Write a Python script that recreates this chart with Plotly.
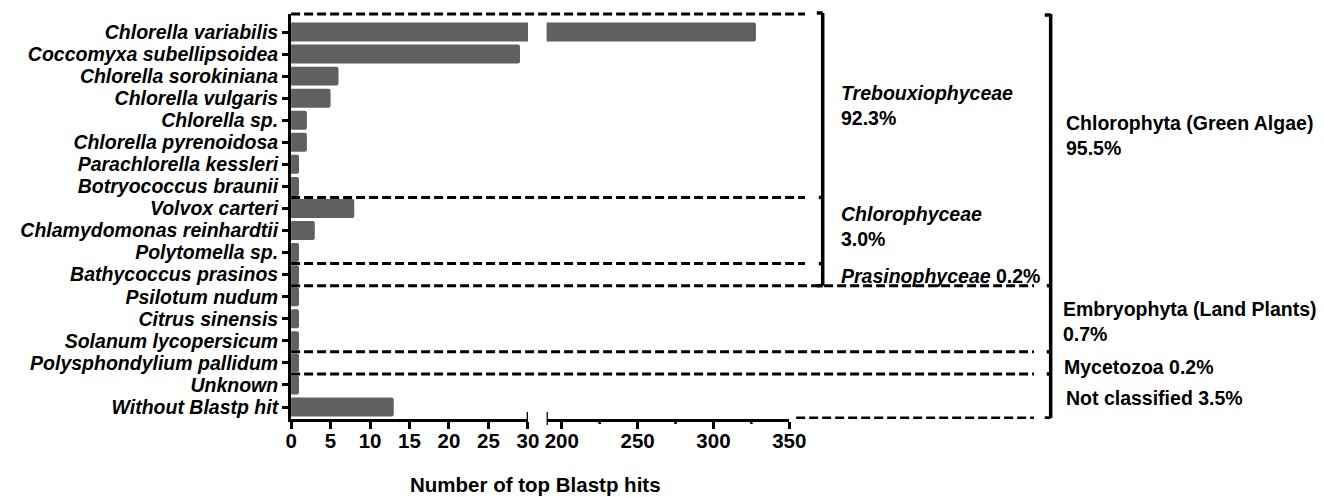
import plotly.graph_objects as go

# ---------------- data ----------------
species = ["Chlorella variabilis", "Coccomyxa subellipsoidea", "Chlorella sorokiniana",
           "Chlorella vulgaris", "Chlorella sp.", "Chlorella pyrenoidosa",
           "Parachlorella kessleri", "Botryococcus braunii", "Volvox carteri",
           "Chlamydomonas reinhardtii", "Polytomella sp.", "Bathycoccus prasinos",
           "Psilotum nudum", "Citrus sinensis", "Solanum lycopersicum",
           "Polysphondylium pallidum", "Unknown", "Without Blastp hit"]
hits = [328, 29, 6, 5, 2, 2, 1, 1, 8, 3, 1, 1, 1, 1, 1, 1, 1, 13]

left_ticks = [0, 5, 10, 15, 20, 25, 30]
right_ticks = [200, 250, 300, 350]
right_minor = [225, 275, 325]
left_range = [0, 30]
right_range = [190, 350]

class_labels = ["<i>Trebouxiophyceae</i><br>92.3%", "<i>Chlorophyceae</i><br>3.0%",
                "<i>Prasinophyceae</i> 0.2%"]
class_sizes = [8, 3, 1]
phylum_labels = ["Chlorophyta (Green Algae)<br>95.5%", "Embryophyta (Land Plants)<br>0.7%",
                 "Mycetozoa 0.2%", "Not classified 3.5%"]
phylum_sizes = [12, 3, 1, 2]
x_title = "Number of top Blastp hits"

# ---------------- layout helpers ----------------
OFF_X, OFF_Y = 0, 8  # page offset of the plot
W, H = 1324 - OFF_X, 497 - OFF_Y
FONT = "Liberation Sans"
def px(x):
    return (x - OFF_X) / W
def py(y):
    return 1 - (y - OFF_Y) / H

Y_TOP, Y_BOT = 14, 419
n = len(species)
row = (407 - 32) / (n - 1)
y_range = [n - 1 + (Y_BOT - 407) / row, -(32 - Y_TOP) / row]

BAR = "#606060"
fig = go.Figure()
for ax in ["x", "x2"]:
    fig.add_trace(go.Bar(y=species, x=hits, orientation="h", xaxis=ax, yaxis="y",
                         marker=dict(color=BAR, line=dict(width=0), cornerradius=2),
                         hoverinfo="skip", showlegend=False))

shapes = []
dash = "9px,4px"
def hline(y, x0, x1, yref="y"):
    shapes.append(dict(type="line", xref="paper", yref=yref, x0=px(x0), x1=px(x1),
                       y0=y, y1=y, line=dict(color="black", width=3, dash=dash)))
def vseg(x, y0, y1, w=3.5, yref="y"):
    shapes.append(dict(type="line", xref="paper", yref=yref, x0=px(x), x1=px(x),
                       y0=y0, y1=y1, line=dict(color="black", width=w)))
def hseg(y, x0, x1, w=3.5, yref="y"):
    shapes.append(dict(type="line", xref="paper", yref=yref, x0=px(x0), x1=px(x1),
                       y0=y, y1=y, line=dict(color="black", width=w)))

# group boundaries (category index units)
cb = [-0.5]
for s in class_sizes:
    cb.append(cb[-1] + s)
pb = [-0.5]
for s in phylum_sizes:
    pb.append(pb[-1] + s)

# dashed separators
hline(py(Y_TOP), 282, 805, yref="paper")
hline(cb[1], 282, 805)
hline(cb[2], 282, 805)
hline(cb[3], 282, 1038)
hline(pb[2], 282, 1038)
hline(pb[3], 282, 1038)
hline(pb[4], 796, 1038)

# class bracket
CX = 823
vseg(CX, py(13), py(Y_TOP), yref="paper")
vseg(CX, y_range[1], cb[3])
hseg(py(13), CX - 6, CX, yref="paper")
hseg(cb[3], CX - 6, CX)
for b in cb[1:3]:
    hseg(b, CX - 4, CX)

# phylum bracket
PX = 1055
vseg(PX, y_range[1], pb[4])
hseg(py(15), PX - 6, PX, yref="paper")
hseg(pb[4], PX - 6, PX)
for b in pb[1:4]:
    hseg(b, PX - 4, PX)

# axis end caps and short intermediate ticks of the right axis
shapes.append(dict(type="line", xref="x", yref="paper", x0=left_range[1], x1=left_range[1],
                   y0=py(Y_BOT), y1=py(Y_BOT - 7), line=dict(color="black", width=2.5)))
shapes.append(dict(type="line", xref="x2", yref="paper", x0=right_range[0], x1=right_range[0],
                   y0=py(Y_BOT + 6), y1=py(Y_BOT - 7), line=dict(color="black", width=2.5)))
for v in right_minor:
    shapes.append(dict(type="line", xref="x2", yref="paper", x0=v, x1=v,
                       y0=py(Y_BOT), y1=py(Y_BOT + 5), line=dict(color="black", width=2.5)))

annotations = []
def ann(text, x, y_mid, yref="paper"):
    annotations.append(dict(text=text, xref="paper", yref=yref, x=px(x), y=y_mid,
                            xanchor="left", yanchor="middle", align="left", showarrow=False,
                            font=dict(family=FONT, size=19.5, color="black", weight="bold")))

ann(class_labels[0], 840, py(105))
ann(class_labels[1], 840, py(226.5))
ann(class_labels[2], 840, py(276))
ann(phylum_labels[0], 1069, py(135))
ann(phylum_labels[1], 1066, py(321))
ann(phylum_labels[2], 1067, py(367))
ann(phylum_labels[3], 1069, py(398))

annotations.append(dict(text=x_title, xref="paper", yref="paper", x=px(531), y=py(484),
                        xanchor="center", yanchor="middle", showarrow=False,
                        font=dict(family=FONT, size=20.5, color="black", weight="bold")))

axis_common = dict(showline=True, linewidth=3, linecolor="black", ticks="outside",
                   ticklen=1, tickwidth=2.5, tickcolor="black", showgrid=False,
                   zeroline=False, anchor="y",
                   tickfont=dict(family=FONT, size=20.5, color="black", weight="bold"))

fig.update_layout(
    width=W, height=H,
    margin=dict(l=0, r=0, t=0, b=0),
    paper_bgcolor="white", plot_bgcolor="white",
    bargap=0.14,
    showlegend=False,
    xaxis=dict(domain=[px(282), px(523)], range=left_range, tickmode="array",
               tickvals=left_ticks,
               minor=dict(tickmode="array", tickvals=left_ticks, ticks="outside",
                          ticklen=7, tickwidth=2.5, tickcolor="black", showgrid=False),
               **axis_common),
    xaxis2=dict(domain=[px(542), px(789)], range=right_range, tickmode="array",
                tickvals=right_ticks,
                minor=dict(tickmode="array", tickvals=right_ticks, ticks="outside",
                           ticklen=7, tickwidth=2.5, tickcolor="black", showgrid=False),
                **axis_common),
    yaxis=dict(domain=[py(Y_BOT), py(Y_TOP)], type="category", categoryorder="array",
               categoryarray=species, range=y_range, anchor="x",
               tickmode="array", tickvals=species, ticktext=species,
               showline=True, linewidth=3, linecolor="black", ticks="outside",
               ticklen=6, tickwidth=2.5, tickcolor="black", showgrid=False,
               zeroline=False, automargin=False,
               tickfont=dict(family=FONT, size=19.5, color="black", weight="bold",
                             style="italic")),
    shapes=shapes,
    annotations=annotations,
)

fig.write_html("out.html")
